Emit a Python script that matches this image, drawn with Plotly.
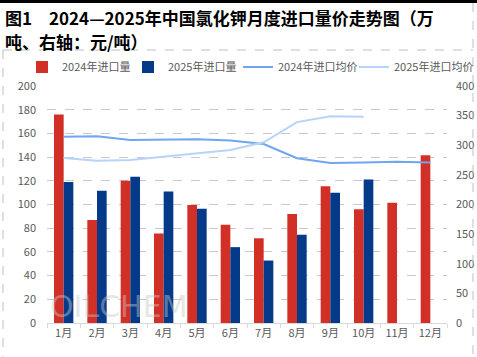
import plotly.graph_objects as go

months = ["1月", "2月", "3月", "4月", "5月", "6月", "7月", "8月", "9月", "10月", "11月", "12月"]
vol_2024 = [176, 87, 120, 75.5, 99.5, 83, 71.5, 92, 115.5, 96, 101.5, 141.5]
vol_2025 = [119, 111.5, 123.5, 111, 96.5, 64, 52.7, 74.5, 110, 121, None, None]
price_2024 = [314.5, 315, 309, 309, 310, 308, 302, 278, 270, 271, 272, 271]
price_2025 = [278.5, 274, 275, 281, 286, 292, 305, 339, 349, 348]

left_ticks = [0, 20, 40, 60, 80, 100, 120, 140, 160, 180, 200]
right_ticks = [0, 50, 100, 150, 200, 250, 300, 350, 400]

RED = "#D22F27"
BLUE = "#043A87"
LINE24 = "#70A5F2"
LINE25 = "#B8D3FA"
GREY = "#595959"
FONT = "Noto Sans CJK SC"

fig = go.Figure()
fig.add_trace(go.Bar(x=months, y=vol_2024, name="2024年进口量", marker_color=RED,
                     marker_line_width=0, legend="legend"))
fig.add_trace(go.Bar(x=months, y=vol_2025, name="2025年进口量", marker_color=BLUE,
                     marker_line_width=0, legend="legend2"))
fig.add_trace(go.Scatter(x=months, y=price_2024, name="2024年进口均价", yaxis="y2",
                         mode="lines", line=dict(color=LINE24, width=2), legend="legend3"))
fig.add_trace(go.Scatter(x=months[:len(price_2025)], y=price_2025, name="2025年进口均价", yaxis="y2",
                         mode="lines", line=dict(color=LINE25, width=2), legend="legend4"))

L, R, T, B = 47, 30, 86, 34
W, H = 477, 357
pw, ph = W - L - R, H - T - B

def px(x):
    return (x - L) / pw

def py(y):
    return (H - B - y) / ph

shapes = [
    dict(type="line", xref="paper", yref="paper", x0=px(0), x1=px(477), y0=py(1.5), y1=py(1.5),
         line=dict(color="black", width=3)),
    dict(type="line", xref="paper", yref="paper", x0=px(3), x1=px(473), y0=py(50), y1=py(50),
         line=dict(color="#c0c0c0", width=1, dash="dash")),
    dict(type="line", xref="paper", yref="paper", x0=px(3), x1=px(3), y0=py(50), y1=py(357),
         line=dict(color="#c0c0c0", width=1, dash="dash")),
    dict(type="line", xref="paper", yref="paper", x0=px(473), x1=px(473), y0=py(3), y1=py(357),
         line=dict(color="#c0c0c0", width=1, dash="dash")),
]

annotations = [
    dict(text="<b>图1　2024—2025年中国氯化钾月度进口量价走势图（万</b>", xref="paper", yref="paper",
         x=px(3), y=py(17), xanchor="left", yanchor="middle", showarrow=False,
         font=dict(family=FONT, size=17, color="black")),
    dict(text="<b>吨、右轴：元/吨）</b>", xref="paper", yref="paper",
         x=px(3), y=py(41), xanchor="left", yanchor="middle", showarrow=False,
         font=dict(family=FONT, size=17, color="black")),
    dict(text="OILCHEM", xref="paper", yref="paper",
         x=px(48), y=py(306), xanchor="left", yanchor="middle", showarrow=False,
         font=dict(family="DejaVu Sans", size=30, color="rgba(200,200,200,0.45)")),
]

def leg(xpix):
    return dict(orientation="h", x=px(xpix), xanchor="left", y=py(67), yanchor="middle",
                font=dict(family=FONT, size=11, color=GREY), itemwidth=30,
                bgcolor="rgba(0,0,0,0)")

fig.update_layout(
    width=W, height=H,
    margin=dict(l=L, r=R, t=T, b=B, pad=0, autoexpand=False),
    paper_bgcolor="white", plot_bgcolor="white",
    barmode="group", bargap=0.42, bargroupgap=0,
    font=dict(family=FONT, size=11, color=GREY),
    showlegend=True,
    legend=leg(22),
    legend2=leg(128),
    legend3=leg(238),
    legend4=leg(354),
    xaxis=dict(type="category", showline=True, linecolor="#d9d9d9", linewidth=1,
               ticks="outside", tickson="boundaries", ticklen=4, tickcolor="#d9d9d9",
               showgrid=False, tickfont=dict(size=11, color=GREY), automargin=False),
    yaxis=dict(range=[0, 200], tickvals=left_ticks, showgrid=True, gridcolor="#c8c8c8",
               griddash="dash", gridwidth=1, zeroline=False, showline=False, automargin=False,
               tickfont=dict(size=11, color=GREY), ticks="", ticklabelstandoff=10),
    yaxis2=dict(range=[0, 400], tickvals=right_ticks, overlaying="y", side="right",
                showgrid=False, zeroline=False, showline=False, automargin=False,
                tickfont=dict(size=11, color=GREY), ticklabelstandoff=8),
    shapes=shapes,
    annotations=annotations,
)

fig.write_html("out.html", config={"displayModeBar": False},
               post_script="document.body.style.margin='0';")
